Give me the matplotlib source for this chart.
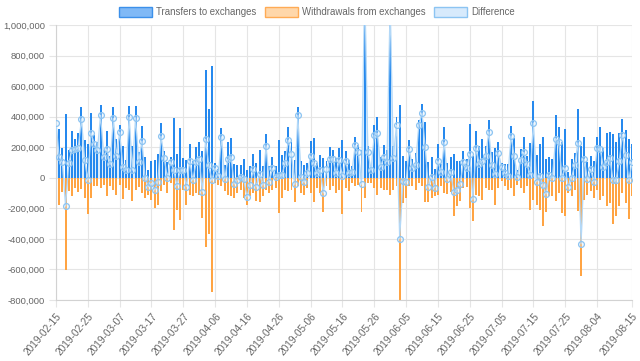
import numpy as np
import pandas as pd
import matplotlib
matplotlib.use("Agg")
import matplotlib.pyplot as plt
from matplotlib.patches import Rectangle
from matplotlib.ticker import FuncFormatter

plt.rcParams["font.family"] = ["Liberation Sans", "DejaVu Sans"]

# one bar per day, 2019-02-15 .. 2019-08-15
dates = pd.date_range("2019-02-15", "2019-08-15", freq="D").strftime("%Y-%m-%d").tolist()

# values, in thousands
transfers_k = [
    444, 318, 198, 416, 183, 303, 255, 292, 460, 248,
    220, 427, 281, 231, 477, 183, 307, 144, 466, 255,
    344, 205, 118, 473, 205, 471, 166, 340, 133, 52,
    107, 118, 155, 360, 176, 100, 139, 394, 157, 325,
    128, 118, 220, 107, 200, 237, 172, 706, 449, 732,
    96, 57, 325, 81, 231, 259, 92, 85, 85, 122,
    52, 74, 155, 96, 183, 74, 288, 74, 139, 74,
    248, 150, 176, 335, 231, 118, 466, 107, 81, 96,
    242, 259, 96, 150, 128, 113, 200, 183, 128, 194,
    248, 176, 118, 74, 270, 216, 183, 1400, 205, 85,
    346, 401, 139, 216, 183, 1250, 205, 401, 477, 144,
    107, 244, 122, 161, 379, 481, 362, 100, 135, 57,
    220, 92, 331, 96, 135, 155, 107, 113, 172, 122,
    353, 144, 303, 209, 255, 209, 379, 166, 198, 233,
    96, 89, 92, 342, 260, 52, 187, 266, 144, 227,
    503, 150, 222, 266, 122, 139, 122, 412, 331, 231,
    318, 41, 122, 161, 449, 209, 266, 100, 144, 107,
    270, 331, 194, 292, 298, 288, 237, 296, 383, 314,
    253, 222,
]

withdrawals_k = [
    -85, -181, -96, -601, -89, -118, -68, -96, -74, -133,
    -235, -133, -57, -52, -68, -46, -118, -57, -78, -111,
    -46, -137, -68, -78, -155, -78, -63, -100, -133, -111,
    -144, -198, -181, -89, -46, -100, -35, -340, -209, -275,
    -78, -176, -111, -122, -100, -111, -264, -455, -368, -749,
    -35, -46, -57, -89, -111, -122, -133, -100, -78, -133,
    -176, -122, -100, -155, -161, -122, -78, -100, -78, -68,
    -231, -133, -78, -89, -78, -161, -57, -100, -111, -68,
    -100, -161, -68, -100, -227, -57, -78, -57, -100, -78,
    -237, -68, -89, -35, -57, -46, -225, -133, -35, -35,
    -68, -111, -68, -78, -78, -111, -78, -57, -876, -166,
    -133, -57, -57, -78, -35, -57, -161, -161, -133, -122,
    -111, -57, -100, -105, -96, -248, -187, -155, -68, -61,
    -198, -285, -111, -122, -144, -68, -78, -83, -176, -68,
    -24, -57, -78, -68, -118, -46, -68, -100, -57, -209,
    -144, -176, -209, -314, -227, -122, -122, -155, -100, -231,
    -253, -100, -122, -78, -220, -641, -144, -111, -89, -133,
    -78, -144, -122, -187, -166, -301, -253, -187, -100, -166,
    -270, -122,
]

tick_idx = list(range(0, 171, 10)) + [181]

W, H = 640, 361
transfers = np.array(transfers_k) * 1000
withdrawals = np.array(withdrawals_k) * 1000
difference = transfers + withdrawals

fig = plt.figure(figsize=(W / 100, H / 100), dpi=100)
ax = fig.add_axes([56 / W, 1 - 300 / H, 576 / W, 275 / H])

x = np.arange(len(dates))
ax.fill_between(x, difference, 0, color="#dcedfc", linewidth=0, zorder=1)
ax.bar(x, transfers, width=0.62, color="#2689ee", zorder=2)
ax.bar(x, withdrawals, width=0.62, color="#ffa443", zorder=2)
ax.plot(x, difference, color="#b3d8f7", lw=0.9, marker="o", ms=4.2,
        mfc=(0.86, 0.93, 0.99, 0.35), mec="#8cc4f2", mew=0.9, zorder=3)

ax.set_xlim(0, len(dates) - 1)
ax.set_ylim(-800000, 1000000)
ax.set_yticks(range(-800000, 1000001, 200000))
ax.yaxis.set_major_formatter(FuncFormatter(lambda v, p: f"{int(v):,}"))
ax.set_xticks(tick_idx)
ax.set_xticklabels([dates[i] for i in tick_idx], rotation=50, ha="right",
                   rotation_mode="anchor")

ax.set_axisbelow(True)
ax.grid(color="#e5e5e5", lw=0.8)
for s in ["top", "right"]:
    ax.spines[s].set_visible(False)
for s in ["left", "bottom"]:
    ax.spines[s].set_color("#d2d2d2")
ax.tick_params(axis="both", length=5, color="#e5e5e5", labelcolor="#666666",
               labelsize=6.8, pad=3)
ax.tick_params(axis="x", labelsize=7.3)

# legend, drawn by hand to sit like the original
legend = [
    ("Transfers to exchanges", 119, "#80b9f6", "#3c90ea"),
    ("Withdrawals from exchanges", 265, "#ffd7aa", "#ffab55"),
    ("Difference", 434, "#d7eafc", "#8cc4f2"),
]
for label, x0, fc, ec in legend:
    fig.add_artist(Rectangle((x0 / W, 1 - 17 / H), 33 / W, 10 / H, transform=fig.transFigure,
                             facecolor=fc, edgecolor=ec, lw=1))
    fig.text((x0 + 37) / W, 1 - 12 / H, label, color="#666666", fontsize=6.9,
             va="center", ha="left")

fig.savefig("out.png", dpi=100)
